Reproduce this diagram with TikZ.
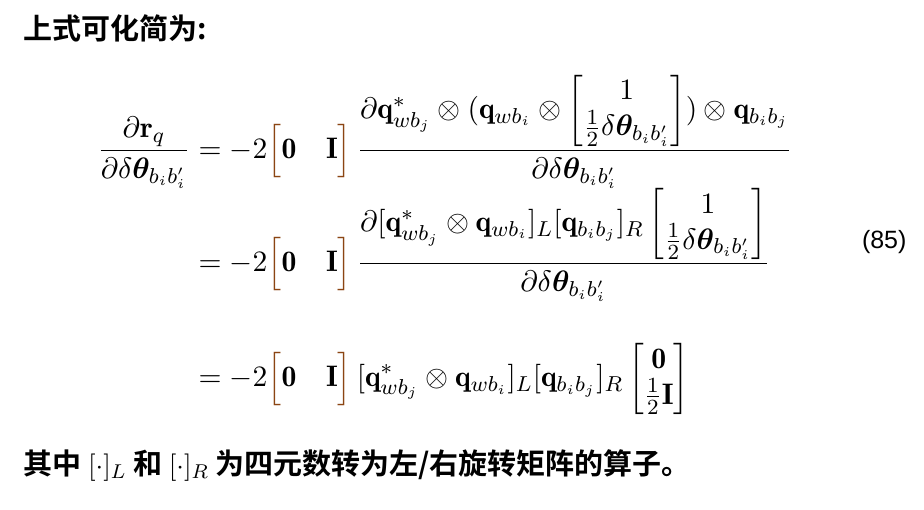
\documentclass[tikz,border=0pt]{standalone}
\usepackage{amsmath,amssymb,bm}
\usepackage{fontspec}
\newfontfamily\cjk{Noto Sans CJK SC}[BoldFont={Noto Sans CJK SC Bold}]
\newfontfamily\num{Liberation Sans}
\definecolor{brk}{HTML}{8B4513}
\newcommand{\OI}{\textcolor{brk}{\Big[}\mathbf{0}\quad\mathbf{I}\textcolor{brk}{\Big]}}
\begin{document}
\begin{tikzpicture}[x=1pt,y=1pt]
\useasboundingbox[fill=white] (0,0) rectangle (924,-510);
\node[anchor=west,font=\cjk\bfseries\fontsize{29}{34}\selectfont] (t) at (20,-28) {上式可化简为:};
\node[anchor=west,inner sep=0pt,font=\fontsize{11}{13}\selectfont,scale=2.7] (eq) at (97,-245) {$\begin{aligned}
\frac{\partial \mathbf{r}_q}{\partial \delta\bm{\theta}_{b_ib_i'}} &= -2\OI\,
\frac{\partial \mathbf{q}^*_{wb_j}\otimes(\mathbf{q}_{wb_i}\otimes\begin{bmatrix}1\\ \frac12\delta\bm{\theta}_{b_ib_i'}\end{bmatrix})\otimes\mathbf{q}_{b_ib_j}}{\partial\delta\bm{\theta}_{b_ib_i'}}\\[-4pt]
&= -2\OI\,
\frac{\partial[\mathbf{q}^*_{wb_j}\otimes\mathbf{q}_{wb_i}]_L[\mathbf{q}_{b_ib_j}]_R\begin{bmatrix}1\\ \frac12\delta\bm{\theta}_{b_ib_i'}\end{bmatrix}}{\partial\delta\bm{\theta}_{b_ib_i'}}\\[11.5pt]
&= -2\OI\,[\mathbf{q}^*_{wb_j}\otimes\mathbf{q}_{wb_i}]_L[\mathbf{q}_{b_ib_j}]_R\begin{bmatrix}\mathbf{0}\\ \frac12\mathbf{I}\end{bmatrix}
\end{aligned}$};
\node[anchor=east,font=\num\fontsize{25}{30}\selectfont] (n) at (910,-242) {(85)};
\node[anchor=west,font=\cjk\bfseries\fontsize{29}{34}\selectfont] (f) at (20,-465) {其中 {\fontsize{11}{13}\selectfont\scalebox{2.5}{$[\cdot]_L$}} 和 {\fontsize{11}{13}\selectfont\scalebox{2.5}{$[\cdot]_R$}} 为四元数转为左/右旋转矩阵的算子。};
\end{tikzpicture}
\end{document}
